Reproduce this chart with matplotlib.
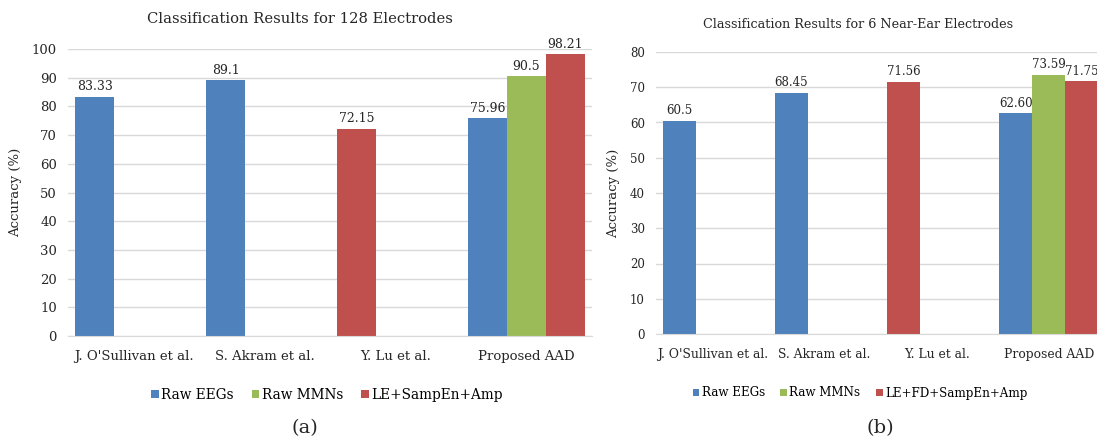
import matplotlib
matplotlib.use("Agg")
import matplotlib.pyplot as plt
from matplotlib.patches import Patch

# ---------------- data ----------------
categories = ["J. O'Sullivan et al.", "S. Akram et al.", "Y. Lu et al.", "Proposed AAD"]

a_series_names = ["Raw EEGs", "Raw MMNs", "LE+SampEn+Amp"]
a_raw_eeg = [83.33, 89.1, None, 75.96]
a_raw_mmn = [None, None, None, 90.5]
a_features = [None, None, 72.15, 98.21]
a_eeg_labels = ["83.33", "89.1", None, "75.96"]
a_mmn_labels = [None, None, None, "90.5"]
a_feat_labels = [None, None, "72.15", "98.21"]

b_series_names = ["Raw EEGs", "Raw MMNs", "LE+FD+SampEn+Amp"]
b_raw_eeg = [60.5, 68.45, None, 62.60]
b_raw_mmn = [None, None, None, 73.59]
b_features = [None, None, 71.56, 71.75]
b_eeg_labels = ["60.5", "68.45", None, "62.60"]
b_mmn_labels = [None, None, None, "73.59"]
b_feat_labels = [None, None, "71.56", "71.75"]

a_title = "Classification Results for 128 Electrodes"
b_title = "Classification Results for 6 Near-Ear Electrodes"
ylabel = "Accuracy (%)"

colors = ["#4F81BD", "#9BBB59", "#C0504D"]
grid_c = "#D9D9D9"
text_c = "#262626"
serif = "DejaVu Serif"

fig = plt.figure(figsize=(10.97, 4.44), dpi=100)
W, H = 1097, 444


def ax_rect(x0, x1, ytop, ybot):
    return [x0 / W, 1 - ybot / H, (x1 - x0) / W, (ybot - ytop) / H]


def draw(ax, series, labels, ymax, width, fs_tick, fs_cat, fs_lab):
    n = len(categories)
    for i in range(n):
        present = [k for k in range(len(series)) if series[k][i] is not None]
        for j, k in enumerate(present):
            x = i + (j - 1) * width
            v = series[k][i]
            ax.bar(x, v, width=width, color=colors[k], zorder=3, linewidth=0)
            ax.text(x, v + ymax * 0.012, labels[k][i], ha="center", va="bottom",
                    fontsize=fs_lab, family=serif, color=text_c, zorder=4)
    ax.set_xlim(-0.5, n - 0.5)
    ax.set_ylim(0, ymax)
    ax.set_yticks(range(0, ymax + 1, 10))
    ax.set_xticks(range(n))
    ax.set_xticklabels(categories)
    for lab in ax.get_yticklabels():
        lab.set_family(serif)
        lab.set_fontsize(fs_tick)
        lab.set_color(text_c)
    for lab in ax.get_xticklabels():
        lab.set_family(serif)
        lab.set_fontsize(fs_cat)
        lab.set_color(text_c)
    ax.tick_params(axis="both", length=0)
    ax.tick_params(axis="x", pad=10)
    ax.tick_params(axis="y", pad=8)
    ax.grid(axis="y", color=grid_c, linewidth=1, zorder=0)
    for s in ["top", "right", "left"]:
        ax.spines[s].set_visible(False)
    ax.spines["bottom"].set_color(grid_c)
    ax.spines["bottom"].set_zorder(5)
    ax.set_ylabel(ylabel, family=serif, fontsize=9.5, color=text_c, labelpad=7)


axA = fig.add_axes(ax_rect(68, 592, 49, 336))
draw(axA, [a_raw_eeg, a_raw_mmn, a_features],
     [a_eeg_labels, a_mmn_labels, a_feat_labels], 100, 0.296, 9.5, 9.5, 9)

axB = fig.add_axes(ax_rect(656, 1105, 52, 334))
draw(axB, [b_raw_eeg, b_raw_mmn, b_features],
     [b_eeg_labels, b_mmn_labels, b_feat_labels], 80, 0.294, 8.5, 8.9, 8.5)

fig.text(300 / W, 1 - 19 / H, a_title, ha="center", va="center",
         family=serif, fontsize=10.6, color=text_c)
fig.text(858 / W, 1 - 25 / H, b_title, ha="center", va="center",
         family=serif, fontsize=9.2, color=text_c)

for names, cx, cy, fs in [(a_series_names, 327, 395, 9.8), (b_series_names, 860, 393, 8.6)]:
    handles = [Patch(facecolor=colors[k], edgecolor="none", label=names[k]) for k in range(3)]
    fig.legend(handles=handles, loc="center", bbox_to_anchor=(cx / W, 1 - cy / H),
               ncol=3, frameon=False, handlelength=0.55, handleheight=0.55,
               handletextpad=0.2, columnspacing=1.3,
               prop={"family": serif, "size": fs})

fig.text(305 / W, 1 - 428 / H, "(a)", ha="center", va="center",
         family=serif, fontsize=14, color=text_c)
fig.text(880 / W, 1 - 428 / H, "(b)", ha="center", va="center",
         family=serif, fontsize=14, color=text_c)

fig.savefig("out.png", dpi=100)
